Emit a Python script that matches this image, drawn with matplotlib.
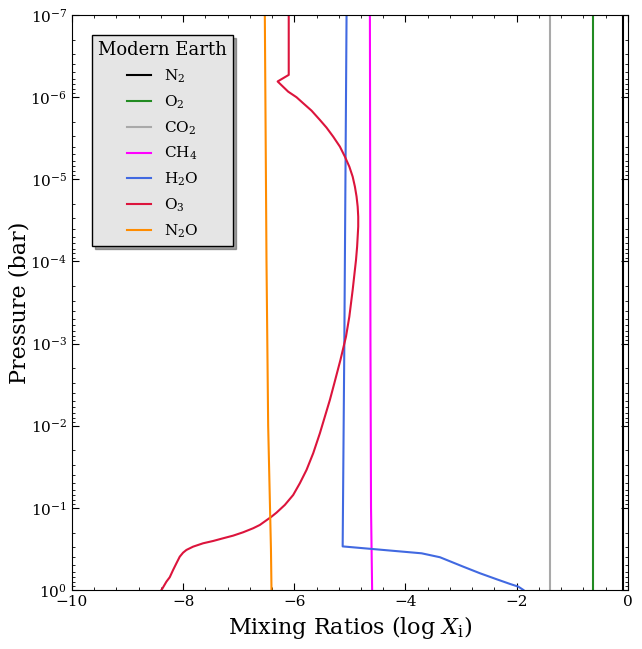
import numpy as np
import matplotlib
matplotlib.use("Agg")
import matplotlib.pyplot as plt
from matplotlib.ticker import AutoMinorLocator, LogLocator, NullFormatter

plt.rcParams['font.family'] = 'DejaVu Serif'
plt.rcParams['mathtext.fontset'] = 'dejavuserif'

# Data: (log mixing ratio, log10 pressure [bar])
n2_x = [-0.08, -0.08]
n2_logp = [-7, 0]
o2_x = [-0.63, -0.63]
o2_logp = [-7, 0]
co2_x = [-1.40, -1.40]
co2_logp = [-7, 0]
ch4_x = [-4.64, -4.63, -4.62, -4.60]
ch4_logp = [-7, -3, -1, 0]
h2o_x = [-5.06, -5.10, -5.13, -3.71, -3.38, -2.96, -2.66, -2.36, -2.12, -1.97, -1.88]
h2o_logp = [-7, -3, -0.53, -0.446, -0.398, -0.283, -0.203, -0.130, -0.073, -0.040, 0]
o3_x = [-6.10, -6.10, -6.30, -6.11, -5.96, -5.84, -5.69, -5.54, -5.42, -5.30,
        -5.18, -5.09, -5.01, -4.95, -4.91, -4.88, -4.86, -4.85, -4.85, -4.86,
        -4.87, -4.89, -4.91, -4.95, -5.01, -5.07, -5.17, -5.28, -5.36, -5.45,
        -5.54, -5.66, -5.78, -5.90, -6.02, -6.17, -6.32, -6.41, -6.62,
        -6.74, -6.92, -7.10, -7.28, -7.46, -7.64, -7.82, -7.94, -8.00, -8.06,
        -8.12, -8.18, -8.24, -8.30, -8.37, -8.39]
o3_logp = [-7.0, -6.270, -6.190, -6.066, -5.998, -5.925, -5.835, -5.722, -5.628, -5.518,
           -5.397, -5.275, -5.153, -5.031, -4.910, -4.788, -4.666, -4.544, -4.423, -4.301,
           -4.179, -4.017, -3.896, -3.652, -3.327, -3.084, -2.800, -2.516, -2.313, -2.110,
           -1.907, -1.664, -1.461, -1.299, -1.156, -1.035, -0.941, -0.892, -0.791,
           -0.751, -0.702, -0.661, -0.629, -0.596, -0.568, -0.527, -0.487, -0.454, -0.405,
           -0.325, -0.243, -0.155, -0.101, -0.020, 0.0]
n2o_x = [-6.53, -6.50, -6.47, -6.42, -6.41]
n2o_logp = [-7, -4, -2, -0.5, 0]

species = [
    (r'$\mathrm{N_2}$', n2_x, n2_logp, 'black'),
    (r'$\mathrm{O_2}$', o2_x, o2_logp, 'forestgreen'),
    (r'$\mathrm{CO_2}$', co2_x, co2_logp, 'darkgray'),
    (r'$\mathrm{CH_4}$', ch4_x, ch4_logp, 'magenta'),
    (r'$\mathrm{H_2O}$', h2o_x, h2o_logp, 'royalblue'),
    (r'$\mathrm{O_3}$', o3_x, o3_logp, 'crimson'),
    (r'$\mathrm{N_2O}$', n2o_x, n2o_logp, 'darkorange'),
]

fig = plt.figure(figsize=(6.42, 6.49), dpi=100)
ax = fig.add_axes([0.112, 0.091, 0.866, 0.886])

for label, xs, lp, c in species:
    ax.plot(xs, 10.0 ** np.array(lp, dtype=float), color=c, lw=1.5, label=label)

ax.set_yscale('log')
ax.set_xlim(-10, 0)
ax.set_ylim(1e0, 1e-7)
ax.xaxis.set_minor_locator(AutoMinorLocator(5))
ax.yaxis.set_major_locator(LogLocator(base=10, numticks=20))
ax.yaxis.set_minor_locator(LogLocator(base=10, subs=np.arange(2, 10), numticks=20))
ax.yaxis.set_minor_formatter(NullFormatter())
ax.tick_params(which='both', direction='in', top=True, right=True, labelsize=11)
ax.tick_params(which='major', length=5)
ax.tick_params(which='minor', length=2.5)

ax.set_xlabel(r'Mixing Ratios (log $X_{\rm i}$)', fontsize=16)
ax.set_ylabel('Pressure (bar)', fontsize=16, labelpad=0)

leg = ax.legend(loc='upper left', bbox_to_anchor=(0.036, 0.965), title='Modern Earth',
                title_fontsize=13, fontsize=11, fancybox=False, shadow=True,
                framealpha=1, facecolor='#e5e5e5', edgecolor='black',
                labelspacing=0.55, handlelength=1.6, borderaxespad=0)
leg.get_frame().set_linewidth(1.0)

fig.savefig('out.png', dpi=100)
